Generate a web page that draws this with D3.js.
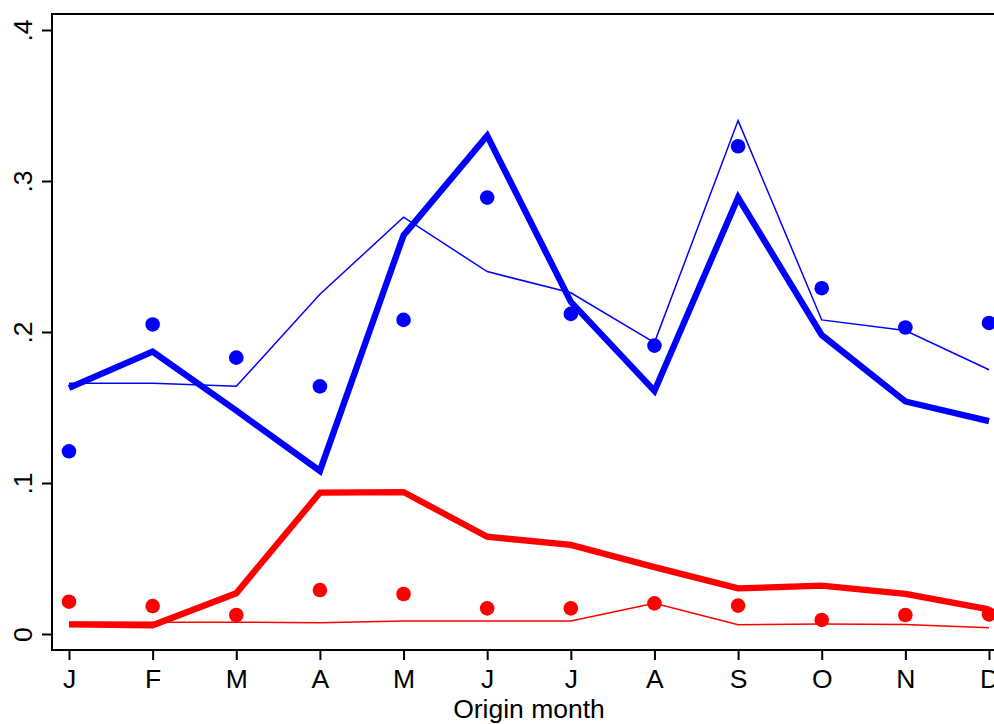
<!DOCTYPE html>
<html>
<head>
<meta charset="utf-8">
<script src="https://cdn.jsdelivr.net/npm/d3@7"></script>
<style>
	body { margin: 0; background: #fff; }
	text { font-family: "Liberation Sans", Arial, sans-serif; }
</style>
</head>
<body>
<div id="chart-area"></div>
<script>
// month labels
const months = ["J", "F", "M", "A", "M", "J", "J", "A", "S", "O", "N", "D"];
const yTicks = [0, 0.1, 0.2, 0.3, 0.4];
const yTickLabels = ["0", ".1", ".2", ".3", ".4"];

// blue series
const blueDots  = [0.121, 0.205, 0.183, 0.164, 0.208, 0.289, 0.212, 0.191, 0.323, 0.229, 0.203, 0.206];
const blueThick = [0.163, 0.187, 0.148, 0.108, 0.264, 0.330, 0.220, 0.161, 0.289, 0.198, 0.154, 0.141];
const blueThin  = [0.166, 0.166, 0.164, 0.225, 0.276, 0.240, 0.226, 0.193, 0.340, 0.208, 0.201, 0.175];

// red series
const redDots  = [0.0214, 0.0185, 0.0126, 0.0291, 0.0265, 0.0170, 0.0170, 0.0203, 0.0188, 0.0093, 0.0126, 0.0130];
const redThick = [0.0064, 0.0058, 0.0270, 0.0936, 0.0940, 0.0644, 0.0590, 0.0443, 0.0302, 0.0320, 0.0265, 0.0163];
const redThin  = [0.0078, 0.0078, 0.0078, 0.0075, 0.0086, 0.0086, 0.0086, 0.0203, 0.0062, 0.0066, 0.0063, 0.0042];

const W = 994, H = 724;
const margin = {top: 14, right: 0, bottom: 74, left: 52};

var svg = d3.select("#chart-area").append("svg")
	.attr("width", W)
	.attr("height", H);

var x = d3.scaleLinear()
	.domain([0, 11])
	.range([69, 989]);
var y = d3.scaleLinear()
	.domain([0, 0.4])
	.range([634, 30]);

// frame: top line
svg.append("line")
	.attr("x1", margin.left).attr("x2", W)
	.attr("y1", margin.top).attr("y2", margin.top)
	.attr("stroke", "black").attr("stroke-width", 2);

// y axis
var yAxis = d3.axisLeft(y)
	.tickValues(yTicks)
	.tickSize(10)
	.tickFormat((d, i) => yTickLabels[i]);
var gy = svg.append("g")
	.attr("class", "axis y-axis")
	.attr("transform", "translate(" + margin.left + ",0)")
	.call(yAxis);
gy.select(".domain").remove();
gy.selectAll(".tick line").attr("stroke-width", 2);
gy.selectAll(".tick text")
	.attr("x", null).attr("dy", null)
	.attr("text-anchor", "middle")
	.attr("transform", "translate(-20,0) rotate(-90)")
	.style("font-size", "26.5px")
	.attr("fill", "black");
svg.append("line")
	.attr("x1", margin.left).attr("x2", margin.left)
	.attr("y1", margin.top - 1).attr("y2", H - margin.bottom + 1)
	.attr("stroke", "black").attr("stroke-width", 2);

// x axis
var xAxis = d3.axisBottom(x)
	.tickValues(d3.range(12))
	.tickSize(10)
	.tickFormat(i => months[i]);
var gx = svg.append("g")
	.attr("class", "axis x-axis")
	.attr("transform", "translate(0," + (H - margin.bottom) + ")")
	.call(xAxis);
gx.select(".domain").remove();
gx.selectAll(".tick line").attr("stroke-width", 2);
gx.selectAll(".tick text")
	.attr("y", 38).attr("dy", null)
	.style("font-size", "26.5px")
	.attr("fill", "black");
svg.append("line")
	.attr("x1", margin.left - 1).attr("x2", W)
	.attr("y1", H - margin.bottom).attr("y2", H - margin.bottom)
	.attr("stroke", "black").attr("stroke-width", 2);

svg.append("text")
	.attr("x", 529)
	.attr("y", 718)
	.attr("text-anchor", "middle")
	.style("font-size", "26.5px")
	.text("Origin month");

var line = d3.line()
	.x((d, i) => x(i))
	.y(d => y(d));

var plot = svg.append("g");

function drawSeries(vals, color, width) {
	plot.append("path")
		.datum(vals)
		.attr("d", line)
		.attr("fill", "none")
		.attr("stroke", color)
		.attr("stroke-width", width)
		.attr("stroke-linejoin", "miter");
}

function drawDots(vals, color) {
	plot.selectAll(null)
		.data(vals)
		.enter().append("circle")
		.attr("cx", (d, i) => x(i))
		.attr("cy", d => y(d))
		.attr("r", 7.3)
		.attr("fill", color);
}

drawSeries(redThin, "#ff0000", 1.5);
drawSeries(blueThin, "#0000ff", 1.5);
drawSeries(redThick, "#ff0000", 6.3);
drawSeries(blueThick, "#0000ff", 6.3);
drawDots(redDots, "#ff0000");
drawDots(blueDots, "#0000ff");
</script>
</body>
</html>
